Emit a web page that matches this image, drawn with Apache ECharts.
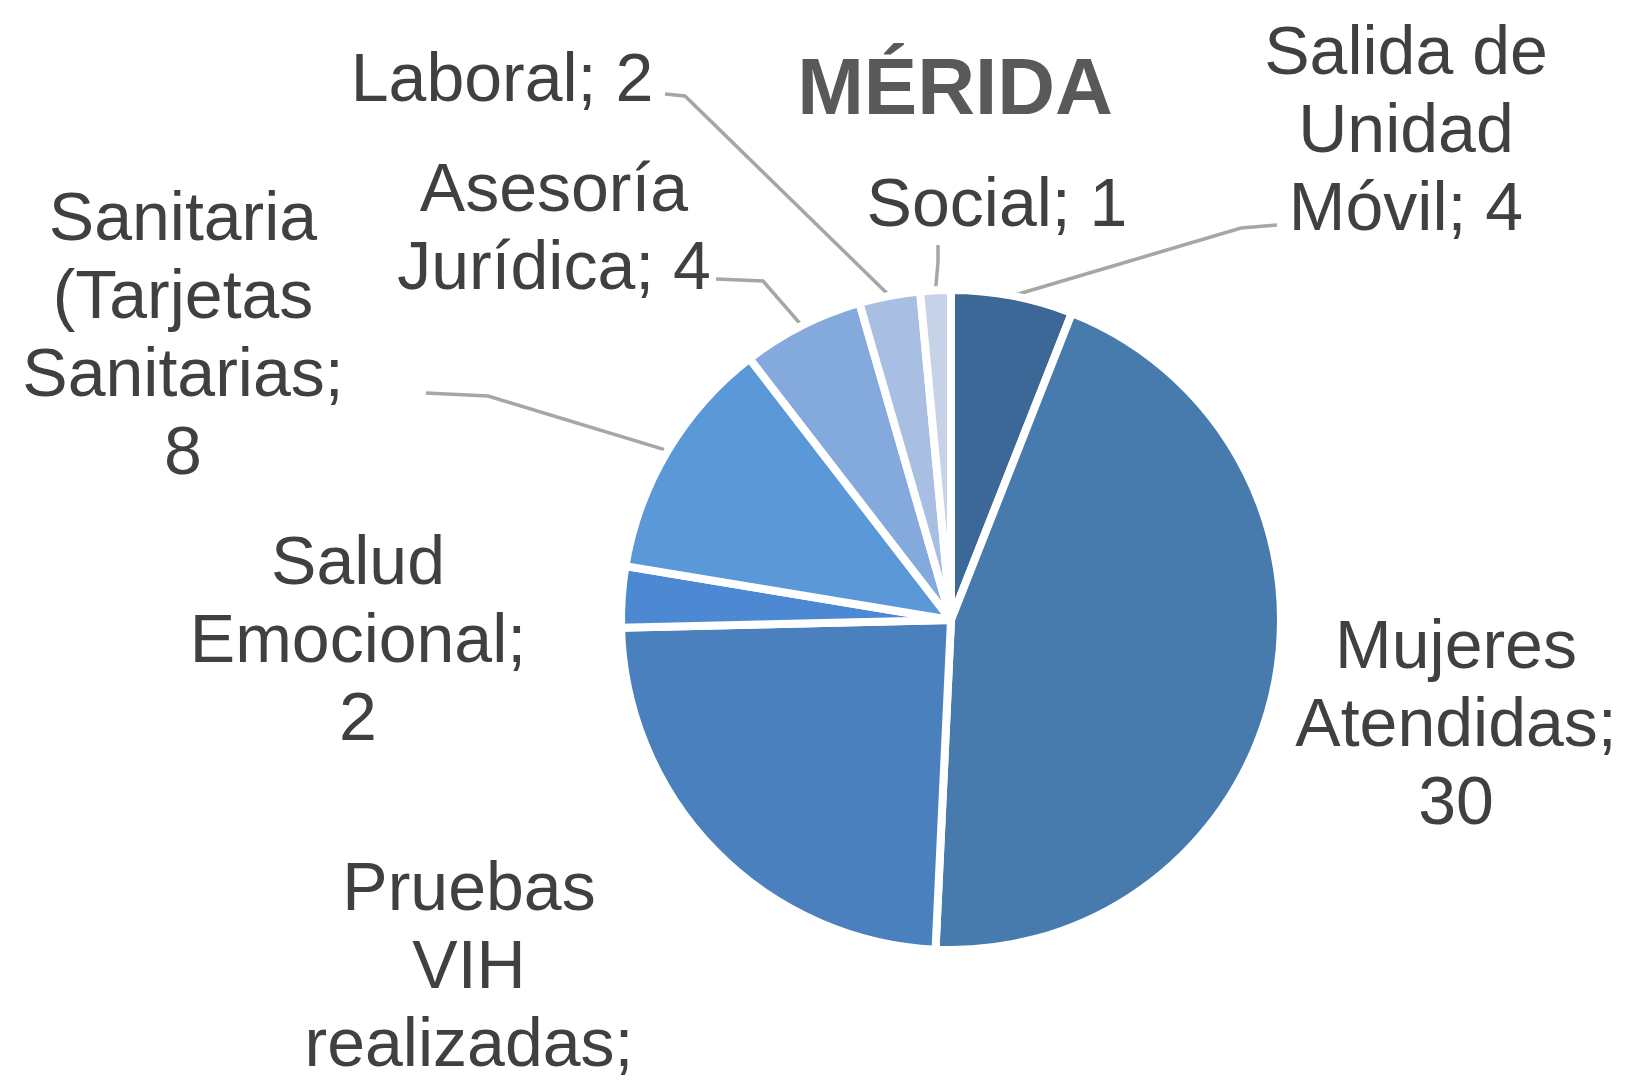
<!DOCTYPE html>
<html>
<head>
<meta charset="utf-8">
<title>MÉRIDA</title>
<script src="https://cdn.jsdelivr.net/npm/echarts@6/dist/echarts.min.js"></script>
<style>
  html, body { margin: 0; padding: 0; background: #ffffff; }
  #chart { width: 1628px; height: 1086px; }
</style>
</head>
<body>
<div id="chart"></div>
<script>
// Categories (line breaks as they wrap in the labels) and their counts
const categories = [
  'Salida de\nUnidad\nMóvil',
  'Mujeres\nAtendidas',
  'Pruebas\nVIH\nrealizadas',
  'Salud\nEmocional',
  'Sanitaria\n(Tarjetas\nSanitarias',
  'Asesoría\nJurídica',
  'Laboral',
  'Social'
];
const values = [4, 30, 16, 2, 8, 4, 2, 1];

// Whether the value goes on its own line after "name;"
const valueOnNewLine = [false, true, true, true, true, false, false, false];

// Slice colours, clockwise from twelve o'clock
const sliceColors = ['#3b6897', '#477bae', '#4a80bd', '#4c89d2', '#5a98d8', '#84a9dc', '#a9bee3', '#c6d2e8'];

// Label block centres in pixels
const labelPos = [
  [1406, 133], [1456, 727], [469, 1008], [358, 643],
  [183, 338], [554, 231], [502, 82], [997, 207]
];
// Leader line: [elbow, end next to label]; null = no leader
const leaders = [
  [[1241, 228], [1277, 225]],
  null,
  null,
  null,
  [[488, 396], [426, 393]],
  [[763, 281], [716, 279]],
  [[685, 96], [665, 94]],
  [[938, 262], [938, 245]]
];

const chart = echarts.init(document.getElementById('chart'), null, { renderer: 'canvas' });

const seriesData = categories.map((name, i) => ({
  name: name,
  value: values[i],
  itemStyle: { color: sliceColors[i] },
  labelLine: { show: leaders[i] !== null }
}));

chart.setOption({
  backgroundColor: '#ffffff',
  animation: false,
  title: {
    text: 'MÉRIDA',
    left: 950,
    top: 47,
    textAlign: 'center',
    textStyle: {
      fontFamily: '"Liberation Sans", Arial, sans-serif',
      fontSize: 80,
      fontWeight: 'bold',
      color: '#595959'
    }
  },
  series: [{
    type: 'pie',
    center: [951, 620],
    radius: ['0%', 330],
    startAngle: 90,
    clockwise: true,
    avoidLabelOverlap: false,
    data: seriesData,
    itemStyle: { borderColor: '#ffffff', borderWidth: 8 },
    label: {
      show: true,
      position: 'outside',
      fontFamily: '"Liberation Sans", Arial, sans-serif',
      fontSize: 68,
      lineHeight: 78,
      color: '#404040',
      formatter: p => p.name + ';' + (valueOnNewLine[p.dataIndex] ? '\n' : ' ') + p.value
    },
    labelLine: {
      show: true,
      length: 20,
      length2: 20,
      lineStyle: { color: '#a6a6a6', width: 3.5 }
    },
    labelLayout: function (params) {
      const i = params.dataIndex;
      const out = {
        x: labelPos[i][0],
        y: labelPos[i][1],
        align: 'center',
        verticalAlign: 'middle'
      };
      if (leaders[i] && params.labelLinePoints) {
        const start = params.labelLinePoints[0];
        out.labelLinePoints = [start, leaders[i][0], leaders[i][1]];
      }
      return out;
    },
    emphasis: { disabled: true }
  }]
});
</script>
</body>
</html>
